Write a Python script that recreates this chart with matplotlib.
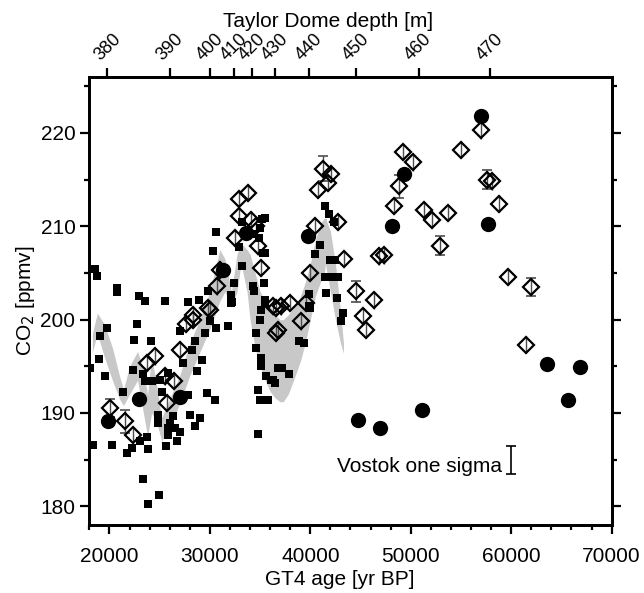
import matplotlib
matplotlib.use("Agg")
import matplotlib.pyplot as plt
import numpy as np

plt.rcParams['font.family'] = ['Liberation Sans', 'DejaVu Sans']

# ---------------- data ----------------
# gray envelope, main part (age, lower, upper)
band_age = [18300, 18800, 19500, 20300, 21000, 21400, 22000, 22800, 23300, 23800,
            24200, 24700, 25200, 26000, 27000, 28000, 29000, 30000, 31000, 31500,
            32150, 32700, 33100, 33700, 34000, 34500, 35000, 35500, 36000, 36500,
            37000, 37300, 37800, 38500, 39000, 39500, 40000, 40500, 41000, 41400,
            41600]
band_lo = [196.5, 198.5, 196.0, 193.5, 191.5, 190.8, 192.0, 193.5, 190.5, 187.5,
           190.0, 189.0, 187.0, 188.5, 191.0, 194.0, 196.5, 199.0, 202.0, 203.0,
           201.4, 203.0, 206.0, 203.0, 200.0, 197.0, 195.0, 193.5, 192.3, 191.6,
           191.2, 191.2, 192.0, 194.0, 195.5, 197.5, 200.0, 202.5, 204.0, 205.0,
           207.0]
band_hi = [198.5, 200.7, 199.5, 197.0, 194.0, 192.5, 195.0, 196.6, 195.0, 192.0,
           196.0, 193.0, 189.5, 191.5, 194.0, 197.5, 200.0, 203.0, 207.5, 206.5,
           203.0, 207.0, 208.2, 207.5, 207.0, 205.0, 203.0, 202.0, 201.5, 200.5,
           200.0, 200.0, 200.5, 201.5, 202.5, 204.0, 206.0, 208.5, 210.3, 210.9,
           210.8]
# gray envelope, descending branch after 41 kyr
band2_age = [41200, 41500, 42000, 42500, 43000, 43300]
band2_lo = [209.0, 206.0, 203.0, 200.0, 197.5, 196.4]
band2_hi = [210.5, 210.9, 209.5, 206.0, 201.0, 197.5]

# black squares
sq_age = [18580, 18810, 20790, 20790, 22980, 23550, 25530, 27780, 28910, 30600,
          30330, 29830, 32910, 33150, 32150, 32250, 32380, 35230, 35460, 35360,
          34300, 34370, 35460, 35130, 19800, 19080, 19010, 18080, 19570, 18350,
          20240, 21330, 22720, 22480, 24140, 22320, 23380, 23550, 24210, 25030,
          25860, 25200, 24870, 24870, 23710, 23870, 23050, 21730, 22220, 23320,
          24970, 23810, 25630, 25860, 26030, 26360, 26520, 26750, 27020, 25800,
          28010, 28510, 29010, 27850, 29670, 30500, 28680, 29170, 27350, 28180,
          27020, 28510, 30000, 30660, 31820, 32150, 29500, 34960, 34640, 35130,
          35130, 35630, 36130, 36450, 34800, 34960, 35790, 34800, 34640, 36780,
          41420, 41850, 42310, 40920, 40430, 41920, 42410, 41420, 42080, 42740,
          41520, 42640, 43240, 39860, 39860, 35460, 35290, 35460, 39930, 43080,
          38870, 39330, 37220, 37870, 36290, 33700, 34300, 34900, 35000, 33200]
sq_co2 = [205.46, 204.64, 203.4, 203.0, 202.57, 201.96, 201.96, 201.9, 202.07, 209.35,
          207.32, 203.03, 207.79, 205.71, 202.68, 201.86, 203.93, 210.79, 207.14, 203.93,
          203.57, 203.03, 202.14, 201.07, 199.11, 198.29, 195.79, 194.82, 194.0, 186.6,
          186.6, 192.21, 199.54, 197.86, 197.68, 194.64, 194.21, 193.39, 193.39, 193.57,
          194.29, 192.21, 189.82, 188.93, 187.39, 186.18, 186.96, 185.71, 186.25, 182.93,
          181.25, 180.25, 186.5, 188.39, 188.93, 189.64, 188.39, 186.96, 187.93, 187.68,
          189.82, 188.57, 189.46, 191.96, 192.14, 191.43, 194.46, 195.64, 195.36, 196.78,
          198.75, 197.68, 199.82, 199.11, 199.29, 201.79, 198.57, 200.0, 196.96, 195.89,
          195.0, 193.93, 193.57, 193.21, 192.5, 191.43, 191.43, 187.75, 198.57, 194.82,
          212.21, 211.36, 210.43, 208.04, 207.04, 206.43, 206.43, 204.53, 204.53, 204.53,
          202.86, 202.32, 200.71, 202.79, 201.5, 210.89, 207.14, 201.79, 201.25, 199.82,
          197.68, 197.5, 194.82, 194.21, 193.57, 209.5, 209.2, 208.7, 209.8, 210.5]

# open diamonds (Taylor Dome) with one-sigma errors
td_age = [33800, 32900, 32900, 34140, 34640, 32480, 34800, 35060, 30990, 30665,
          36620, 29830, 28340, 27620, 28340, 30000, 27020, 24540, 23710, 25530,
          26450, 25700, 20070, 21560, 22380, 36290, 36620, 41250, 42080, 41750,
          40750, 42740, 40430, 43400, 39930, 44570, 46310, 49190, 50260, 48800,
          48370, 51350, 52110, 53660, 52910, 46880, 47380, 55000, 37120, 37940,
          39600, 45220, 36780, 39100, 45560, 56980, 57580, 58130, 58800, 59720,
          61940, 61510]
td_co2 = [213.6, 212.9, 211.1, 210.7, 210.0, 208.75, 207.85, 205.54, 205.35, 203.57,
          201.25, 201.25, 200.53, 199.57, 200.0, 201.07, 196.78, 196.07, 195.36, 193.93,
          193.47, 191.07, 190.54, 189.1, 187.68, 201.42, 198.57, 216.18, 215.6, 214.64,
          213.93, 210.47, 210.0, 206.5, 205.0, 203.03, 202.07, 217.96, 216.85, 214.28,
          212.2, 211.71, 210.71, 211.43, 207.93, 206.78, 206.89, 218.2, 201.42, 201.79,
          201.79, 200.36, 198.93, 199.82, 198.93, 220.28, 215.0, 214.82, 212.43, 204.57,
          203.5, 197.33]
td_err = [0.9, 0.9, 0.9, 0.9, 0.9, 0.9, 0.9, 0.9, 0.9, 0.9,
          0.9, 0.9, 0.9, 0.9, 0.9, 0.9, 0.9, 0.9, 0.9, 0.9,
          0.9, 0.9, 1.0, 1.2, 0.9, 0.9, 0.9, 1.3, 0.9, 0.9,
          0.9, 0.9, 0.9, 0.9, 0.9, 1.1, 0.9, 0.9, 0.9, 1.2,
          0.9, 0.9, 0.9, 0.9, 1.0, 0.9, 0.9, 0.9, 0.9, 0.9,
          0.9, 0.9, 0.9, 0.9, 0.9, 0.9, 1.0, 0.9, 0.9, 0.9,
          1.0, 0.9]

# filled circles (Vostok)
vk_age = [19900, 22980, 27020, 31320, 33640, 39760, 48140, 49360, 44730, 46950,
          51120, 56980, 57700, 63590, 66810, 65620]
vk_co2 = [189.1, 191.5, 191.7, 205.35, 209.3, 209.0, 210.07, 215.6, 189.2, 188.35,
          190.35, 221.8, 210.3, 195.3, 194.9, 191.35]

# top axis: Taylor Dome depth ticks and their GT4 ages
depth_labels = [380, 390, 400, 410, 420, 430, 440, 450, 460, 470]
depth_ages = [19800, 26030, 30000, 32380, 34240, 36520, 39860, 44570, 50780, 57870]

sigma_age, sigma_co2, sigma_err = 60000, 185.0, 1.5

# ---------------- plot ----------------
FS = 15
fig = plt.figure(figsize=(6.44, 5.93), dpi=100)
ax = fig.add_axes([0.1387, 0.1147, 0.8111, 0.7555])

ax.fill_between(band_age, band_lo, band_hi, color='#c8c8c8', lw=0, zorder=1)
ax.fill_between(band2_age, band2_lo, band2_hi, color='#c8c8c8', lw=0, zorder=1)

td_age_a = np.array(td_age)
td_co2_a = np.array(td_co2)
td_err_a = np.array(td_err)
big = td_err_a >= 1.0
ax.errorbar(td_age_a[~big], td_co2_a[~big], yerr=td_err_a[~big], fmt='none',
            ecolor='0.3', elinewidth=1.0, capsize=0, zorder=2)
ax.errorbar(td_age_a[big], td_co2_a[big], yerr=td_err_a[big], fmt='none',
            ecolor='0.3', elinewidth=1.0, capsize=3.3, capthick=1.2, zorder=2)
ax.plot(td_age, td_co2, 'D', ms=8.5, mfc='none', mec='black', mew=1.6, zorder=3)
ax.plot(sq_age, sq_co2, 's', ms=6.0, color='black', mew=0, zorder=4)
ax.plot(vk_age, vk_co2, 'o', ms=11, color='black', mew=0, zorder=5)

ax.errorbar([sigma_age], [sigma_co2], yerr=[sigma_err], fmt='none', ecolor='black',
            elinewidth=1.2, capsize=3.5, capthick=1.2, zorder=5)
ax.text(sigma_age - 900, sigma_co2 - 0.75, 'Vostok one sigma', ha='right', va='center',
        fontsize=FS)

ax.set_xlim(18000, 70000)
ax.set_ylim(178, 226)
ax.set_xticks([20000, 30000, 40000, 50000, 60000, 70000])
ax.set_xticks(np.arange(18000, 70001, 2000), minor=True)
ax.set_yticks([180, 190, 200, 210, 220])
ax.set_yticks(np.arange(180, 226, 5), minor=True)

for s in ax.spines.values():
    s.set_linewidth(2.0)

ax.tick_params(which='both', direction='out', width=1.6, labelsize=FS,
               left=True, right=True, bottom=True, top=False)
ax.tick_params(which='major', length=6.5)
ax.tick_params(which='minor', length=3.5)
ax.tick_params(axis='x', which='major', pad=9)

ax.set_xlabel('GT4 age [yr BP]', fontsize=FS)
ax.xaxis.set_label_coords(0.479, -0.10)
ax.set_ylabel('CO$_2$ [ppmv]', fontsize=FS)
ax.yaxis.set_label_coords(-0.100, 0.5)

ax2 = ax.twiny()
ax2.set_xlim(ax.get_xlim())
ax2.set_xticks(depth_ages)
ax2.set_xticklabels([str(d) for d in depth_labels], rotation=45, ha='center',
                    va='bottom')
ax2.tick_params(axis='x', direction='out', length=6.5, width=1.6, labelsize=13, pad=3)
for s in ax2.spines.values():
    s.set_linewidth(2.0)
ax2.set_xlabel('Taylor Dome depth [m]', fontsize=FS)
ax2.xaxis.set_label_coords(0.457, 1.112)

fig.savefig('out.png', dpi=100)
